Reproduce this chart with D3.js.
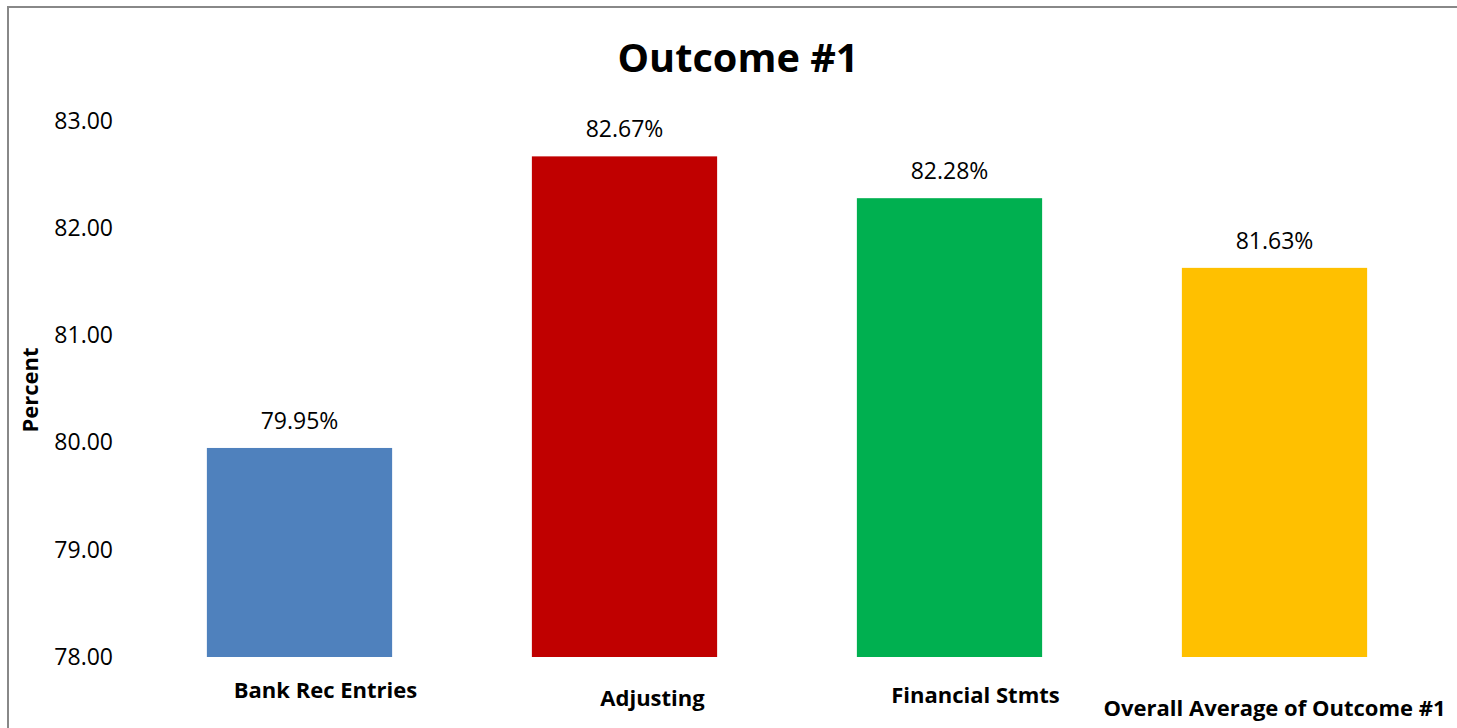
<!DOCTYPE html>
<html lang="en">
<head>
    <meta charset="UTF-8">
    <title>Outcome #1</title>
    <script src="https://d3js.org/d3.v7.min.js"></script>
    <style>
        body { margin: 0; background: #fff; }
        svg { display: block; font-family: "Open Sans", sans-serif; }
    </style>
</head>
<body>

<svg width="1457" height="728"></svg>

<script>
// Data
const categories = ["Bank Rec Entries", "Adjusting", "Financial Stmts", "Overall Average of Outcome #1"];
const values = [79.95, 82.67, 82.28, 81.63];
const barColors = ["#4F81BD", "#C00000", "#00B050", "#FFC000"];
const yTicks = [78, 79, 80, 81, 82, 83];

// Layout tweaks for the category labels (the original staggers them)
const labelShift = [[26, 698], [28, 706], [26, 703], [0, 716]];

const width = 1457, height = 728;
const svg = d3.select("svg");

// Frame (top and left edges only)
svg.append("path")
    .attr("d", `M8,${height} V7 H${width}`)
    .attr("fill", "none")
    .attr("stroke", "#888")
    .attr("stroke-width", 2);

// Scales
const x = d3.scaleBand()
    .domain(categories)
    .range([137, 1437])
    .paddingInner(0.43)
    .paddingOuter(0.215);

const y = d3.scaleLinear()
    .domain([78, 83])
    .range([657, 121]);

// Title
svg.append("text")
    .attr("x", 738)
    .attr("y", 72)
    .attr("text-anchor", "middle")
    .attr("font-weight", "bold")
    .attr("font-size", 39)
    .attr("textLength", 241)
    .attr("lengthAdjust", "spacingAndGlyphs")
    .text("Outcome #1");

// Y axis (labels only)
const yAxis = svg.append("g")
    .attr("transform", "translate(113,0)")
    .call(d3.axisLeft(y).tickValues(yTicks).tickFormat(d3.format(".2f")).tickSize(0).tickPadding(0));
yAxis.select(".domain").remove();
yAxis.selectAll("text")
    .attr("font-family", "Open Sans, sans-serif")
    .attr("font-size", 23)
    .attr("fill", "#000");

// Y axis title
svg.append("text")
    .attr("transform", "translate(38,390) rotate(-90)")
    .attr("text-anchor", "middle")
    .attr("font-weight", "bold")
    .attr("font-size", 22)
    .text("Percent");

// Bars
svg.selectAll("rect.bar")
    .data(values)
    .enter().append("rect")
    .attr("class", "bar")
    .attr("x", (d, i) => x(categories[i]))
    .attr("y", d => y(d))
    .attr("width", x.bandwidth())
    .attr("height", d => y(78) - y(d))
    .attr("fill", (d, i) => barColors[i]);

// Value labels
svg.selectAll("text.val")
    .data(values)
    .enter().append("text")
    .attr("class", "val")
    .attr("x", (d, i) => x(categories[i]) + x.bandwidth() / 2)
    .attr("y", d => y(d) - 19)
    .attr("text-anchor", "middle")
    .attr("font-size", 23)
    .text(d => d.toFixed(2) + "%");

// Category labels
svg.selectAll("text.cat")
    .data(categories)
    .enter().append("text")
    .attr("class", "cat")
    .attr("x", (d, i) => x(d) + x.bandwidth() / 2 + labelShift[i][0])
    .attr("y", (d, i) => labelShift[i][1])
    .attr("text-anchor", "middle")
    .attr("font-weight", "bold")
    .attr("font-size", 22)
    .text(d => d);
</script>

</body>
</html>
